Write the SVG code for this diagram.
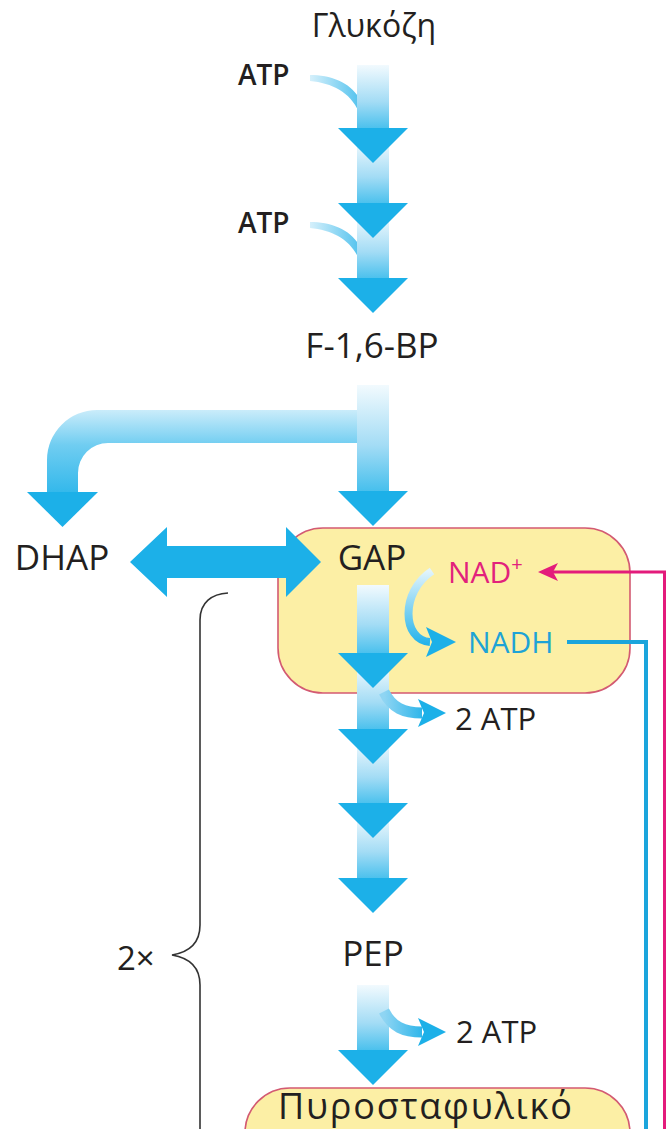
<svg xmlns="http://www.w3.org/2000/svg" width="666" height="1129" viewBox="0 0 666 1129">
<style>
.t{font-family:"Open Sans","Noto Sans","DejaVu Sans",sans-serif;fill:#231f20;font-weight:500}
.big{font-size:35px}
.atp{font-size:28px;font-weight:600}
.head{fill:#1cb0e8}
.shaft{fill:url(#shaftG)}
.box{fill:#fcefa5;stroke:#d35a72;stroke-width:1.6}
</style>
<defs>
<linearGradient id="shaftG" x1="0" y1="0" x2="0" y2="1">
<stop offset="0" stop-color="#f2fafe"/>
<stop offset="0.55" stop-color="#a3dcf5"/>
<stop offset="1" stop-color="#3fbdec"/>
</linearGradient>
<linearGradient id="branchG" gradientUnits="userSpaceOnUse" x1="0" y1="400" x2="0" y2="500">
<stop offset="0" stop-color="#e4f5fd"/>
<stop offset="0.45" stop-color="#70cdf1"/>
<stop offset="1" stop-color="#2ab5ea"/>
</linearGradient>
<linearGradient id="feedG" x1="0" y1="0" x2="1" y2="0">
<stop offset="0" stop-color="#d6f0fb"/>
<stop offset="1" stop-color="#55c3ee"/>
</linearGradient>
<linearGradient id="nadhG" gradientUnits="userSpaceOnUse" x1="0" y1="571" x2="0" y2="645">
<stop offset="0" stop-color="#e2f4fc"/>
<stop offset="1" stop-color="#22b2ea"/>
</linearGradient>
<linearGradient id="sideG" x1="0" y1="0" x2="1" y2="0">
<stop offset="0" stop-color="#8fd5f3"/>
<stop offset="1" stop-color="#2fb6ea"/>
</linearGradient>
</defs>

<g id="node-gap">
<rect class="box" x="278" y="528" width="352" height="165" rx="45"/>
</g>
<g id="node-pyruvate">
<rect class="box" x="245" y="1088" width="385" height="100" rx="45"/>
<text class="t" x="278" y="1119" font-size="36" letter-spacing="1.8">Πυροσταφυλικό</text>
</g>

<g id="connectors">
<!-- ATP feeders -->
<path d="M310,75 C330,75 350,82 359,98 L359,112 C350,92 332,83 310,81 Z" fill="url(#feedG)"/>
<path d="M310,222 C330,222 350,229 359,245 L359,259 C350,239 332,230 310,228 Z" fill="url(#feedG)"/>
<!-- shafts -->
<rect class="shaft" x="357" y="65" width="32" height="67"/>
<rect class="shaft" x="357" y="140" width="32" height="67"/>
<rect class="shaft" x="357" y="215" width="32" height="67"/>
<path d="M389,410 L97,410 A50,50 0 0 0 47,460 L47,494 L78,494 L78,473 A30,30 0 0 1 108,443 L389,443 Z" fill="url(#branchG)"/>
<rect class="shaft" x="357" y="385" width="32" height="110"/>
<rect class="shaft" x="357" y="585" width="32" height="72"/>
<rect class="shaft" x="357" y="665" width="32" height="68"/>
<rect class="shaft" x="357" y="741" width="32" height="66"/>
<rect class="shaft" x="357" y="815" width="32" height="67"/>
<rect class="shaft" x="357" y="985" width="32" height="69"/>
<!-- side arrows -->
<path d="M432,571 C400,592 402,640 430,642" fill="none" stroke="url(#nadhG)" stroke-width="8"/>
<polygon class="head" points="426,627 456,642 426,657 432,642"/>
<path d="M384,692 C392,708 404,713 422,713" fill="none" stroke="url(#sideG)" stroke-width="11"/>
<polygon class="head" points="418,699 446,713 418,727 424,713"/>
<path d="M384,1011 C392,1027 404,1032 422,1032" fill="none" stroke="url(#sideG)" stroke-width="11"/>
<polygon class="head" points="418,1018 446,1032 418,1046 424,1032"/>
<!-- heads -->
<polygon class="head" points="338,128 408,128 373,163"/>
<polygon class="head" points="338,203 408,203 373,238"/>
<polygon class="head" points="338,278 408,278 373,313"/>
<polygon class="head" points="27,492 98,492 62.5,527"/>
<polygon class="head" points="338,491 408,491 373,526"/>
<polygon class="head" points="338,653 408,653 373,688"/>
<polygon class="head" points="338,729 408,729 373,764"/>
<polygon class="head" points="338,803 408,803 373,838"/>
<polygon class="head" points="338,878 408,878 373,913"/>
<polygon class="head" points="338,1050 408,1050 373,1085"/>
<!-- DHAP <-> GAP -->
<polygon class="head" points="130,562 167,527 167,546 286,546 286,527 321,562 286,597 286,578 167,578 167,597"/>
<!-- NAD+ return line -->
<path d="M664.5,1129 V572 H552" fill="none" stroke="#e31b7b" stroke-width="3"/>
<polygon points="538,572 558,563 553,572 558,581" fill="#e31b7b"/>
<!-- NADH line -->
<path d="M567,642 H646 V1129" fill="none" stroke="#1ba5dc" stroke-width="4"/>
</g>

<g id="bracket">
<path d="M228,593 C212,594 200,602 200,620 L200,925 C200,942 190,952 172,955 C190,958 200,968 200,985 L200,1129" fill="none" stroke="#333" stroke-width="1.6"/>
</g>

<g id="node-glucose"><text class="t" x="374" y="37" font-size="32" text-anchor="middle">Γλυκόζη</text></g>
<g id="node-atp1"><text class="t atp" x="238" y="85">ATP</text></g>
<g id="node-atp2"><text class="t atp" x="238" y="233">ATP</text></g>
<g id="node-f16bp"><text class="t big" x="372" y="358" text-anchor="middle">F-1,6-BP</text></g>
<g id="node-dhap"><text class="t big" x="62" y="570" text-anchor="middle">DHAP</text></g>
<g id="node-gap-label"><text class="t big" x="372" y="570" text-anchor="middle">GAP</text></g>
<g id="node-nad"><text class="t" x="448" y="583" font-size="30" style="fill:#e2217c">NAD<tspan font-size="20" dy="-12">+</tspan></text></g>
<g id="node-nadh"><text class="t" x="468" y="653" font-size="30" style="fill:#1ea3d6">NADH</text></g>
<g id="node-atp3"><text class="t" x="455" y="730" font-size="31">2 ATP</text></g>
<g id="node-pep"><text class="t big" x="373" y="966" text-anchor="middle">PEP</text></g>
<g id="node-atp4"><text class="t" x="456" y="1043" font-size="31">2 ATP</text></g>
<g id="node-2x"><text class="t" x="117" y="970" font-size="33">2×</text></g>
</svg>
